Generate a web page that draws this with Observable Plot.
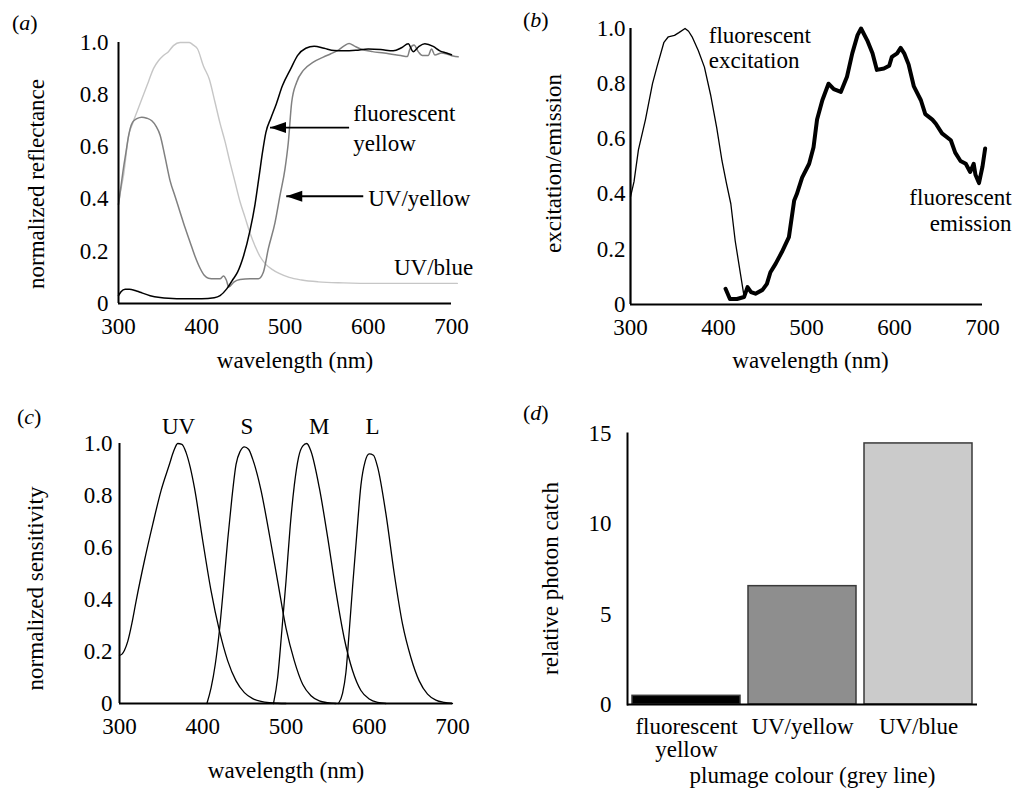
<!DOCTYPE html>
<html><head><meta charset="utf-8">
<script src="https://cdn.jsdelivr.net/npm/d3@7"></script>
<script src="https://cdn.jsdelivr.net/npm/@observablehq/plot@0.6"></script>
<style>
body{margin:0;background:#fff;}
#fig{position:relative;width:1016px;height:791px;font-family:"Liberation Serif","Times New Roman",serif;color:#000;}
.panel{position:absolute;}
.tag{position:absolute;font-size:22px;line-height:22px;}
</style></head><body>
<div id="fig">
  <div class="tag" style="left:12px;top:12px">(<i>a</i>)</div>
  <div class="tag" style="left:523px;top:9px">(<i>b</i>)</div>
  <div class="tag" style="left:17px;top:406px">(<i>c</i>)</div>
  <div class="tag" style="left:523px;top:402px">(<i>d</i>)</div>
  <div class="panel" id="pa" style="left:0;top:0"></div>
  <div class="panel" id="pb" style="left:500px;top:0"></div>
  <div class="panel" id="pc" style="left:0;top:400px"></div>
  <div class="panel" id="pd" style="left:500px;top:400px"></div>
</div>
<script>
// ---------- Panel (a): normalized reflectance ----------
const fyWl  = [300,303,308,313,320,326,338,350,360,380,400,415,422,430,437,443,450,458,464,469,473,477,483,489,497,507,515,525,535,547,559,570,585,600,615,630,640,648,654,661,668,678,686,694,700];
const fyVal = [0.03,0.045,0.055,0.055,0.05,0.043,0.03,0.023,0.02,0.018,0.018,0.022,0.03,0.056,0.09,0.12,0.18,0.28,0.38,0.49,0.58,0.655,0.71,0.76,0.835,0.90,0.95,0.978,0.986,0.978,0.969,0.968,0.97,0.975,0.973,0.968,0.98,0.995,0.965,0.985,0.995,0.985,0.968,0.96,0.953];
const uyWl  = [300,303,306,309,312,314,317,322,328,334,340,345,350,356,362,368,374,380,386,392,398,403,408,415,422,426,429.5,432.5,438.5,446,458,468,474,480,488,494,500,504,508,514,522,534,546,555,563,571,577,583,591,605,619,639,647,650,655,660,665,672,676,680,688,695,702,708];
const uyVal = [0.38,0.45,0.52,0.58,0.64,0.67,0.695,0.708,0.714,0.71,0.70,0.68,0.645,0.56,0.47,0.41,0.35,0.29,0.235,0.18,0.135,0.108,0.097,0.095,0.095,0.105,0.09,0.063,0.082,0.092,0.095,0.095,0.12,0.21,0.31,0.414,0.516,0.618,0.77,0.848,0.893,0.925,0.944,0.957,0.969,0.987,0.996,0.987,0.975,0.965,0.96,0.95,0.946,0.975,0.99,0.965,0.95,0.95,0.975,0.952,0.96,0.955,0.948,0.945];
const ubWl  = [300,303,306,312,317,322,330,336,342,348,354,360,366,374,385,390,395,402,409,416,422,428,434,440,446,452,458,464,470,477,485,493,505,520,540,570,610,660,707];
const ubVal = [0.38,0.44,0.49,0.64,0.69,0.733,0.80,0.85,0.90,0.93,0.95,0.965,0.988,1.0,1.0,0.99,0.975,0.91,0.86,0.77,0.69,0.62,0.54,0.465,0.39,0.33,0.27,0.22,0.18,0.15,0.13,0.115,0.10,0.09,0.083,0.079,0.077,0.077,0.077];
const aLabels = ["fluorescent\nyellow", "UV/yellow", "UV/blue"];
const aLabelWl = [582, 600, 726];
const aLabelV = [0.68, 0.41, 0.146];
const aLabelAnchor = ["start", "start", "end"];
const aArrowTail = [577, 594];
const aArrowTip = [482, 501.5];
const aArrowV = [0.674, 0.411];

// ---------- Panel (b): excitation / emission ----------
const exWl  = [300,304,309,317,325,330,338,343,350,355,362,366,370,377,384,391,398,404,409,414,419,425,429];
const exVal = [0.39,0.445,0.56,0.67,0.80,0.86,0.95,0.97,0.975,0.985,1.0,0.99,0.97,0.92,0.86,0.76,0.64,0.52,0.44,0.365,0.23,0.11,0.03];
const emWl  = [408,413,421,429,433,437,442,450,455,459,465,472,480,486,489,495,503,508,512,518,525,531,539,546,552,558,562,569,575,580,588,594,597,603,607,611,616,622,630,635,643,647,654,664,669,675,681,686,690,692,696,700,703];
const emVal = [0.057,0.02,0.02,0.027,0.063,0.045,0.039,0.053,0.075,0.117,0.148,0.19,0.244,0.377,0.40,0.46,0.51,0.57,0.67,0.74,0.80,0.78,0.77,0.825,0.91,0.976,1.0,0.957,0.91,0.85,0.855,0.865,0.897,0.91,0.93,0.91,0.87,0.79,0.74,0.69,0.67,0.655,0.62,0.595,0.55,0.52,0.51,0.48,0.51,0.47,0.44,0.50,0.565];
const bLabels = ["fluorescent\nexcitation", "fluorescent\nemission"];
const bLabelWl = [389, 733];
const bLabelV = [0.93, 0.345];
const bLabelAnchor = ["start", "end"];

// ---------- Panel (c): cone sensitivities ----------
const uvWl  = [300,303,306,310,315,320,330,340,350,360,365,370,375,380,385,390,400,410,420,430,440,450,460,470,480,490,500];
const uvVal = [0.185,0.19,0.205,0.24,0.31,0.395,0.55,0.69,0.82,0.92,0.97,1.0,0.997,0.965,0.908,0.83,0.626,0.433,0.28,0.164,0.087,0.042,0.019,0.008,0.003,0.001,0];
const sWl   = [405,410,415,420,425,430,435,440,445,450,455,460,470,480,490,500,510,520,530,540,550,560];
const sVal  = [0,0.06,0.15,0.28,0.45,0.63,0.79,0.92,0.97,0.987,0.978,0.94,0.82,0.65,0.47,0.29,0.164,0.074,0.03,0.01,0.003,0];
const mWl   = [485,490,495,500,505,510,515,520,525,530,540,550,560,570,580,590,600,610,620];
const mVal  = [0,0.1,0.28,0.47,0.68,0.84,0.946,0.99,1.0,0.97,0.83,0.64,0.43,0.25,0.126,0.05,0.017,0.004,0];
const lWl   = [563,568,572,576,580,585,590,595,600,605,610,620,630,640,650,660,670,680,690,700];
const lVal  = [0,0.04,0.12,0.28,0.45,0.65,0.84,0.93,0.96,0.955,0.91,0.73,0.5,0.305,0.177,0.087,0.036,0.013,0.004,0];
const coneNames = ["UV", "S", "M", "L"];
const coneLabelWl = [371, 453, 540, 604];
const coneLabelV = 1.065;

// ---------- Panel (d): relative photon catch ----------
const plumage = ["fluorescent\nyellow", "UV/yellow", "UV/blue"];
const photonCatch = [0.48, 6.55, 14.45];
const plumageFill = ["#000000", "#8e8e8e", "#cbcbcb"];

const wlTicks = [300, 400, 500, 600, 700];
const unitTicks = [0, 0.2, 0.4, 0.6, 0.8, 1.0];
const catchTicks = [0, 5, 10, 15];

// ---------- helpers ----------
const FONT = "Liberation Serif";
const base = {fontFamily: FONT, fontSize: "23px", background: "transparent", color: "black", overflow: "visible"};
const fmt1 = d => d === 0 ? "0" : d.toFixed(1);
const zip = (xs, ys) => xs.map((x, i) => ({wl: x, v: ys[i]}));
const headLeft = {draw(ctx) { ctx.moveTo(0, 0); ctx.lineTo(16, -5.5); ctx.lineTo(16, 5.5); ctx.closePath(); }};
const title = (s, o) => Plot.text([s], {text: d => d, fontSize: 23, textAnchor: "middle", lineAnchor: "middle", ...o});

// Panel a
const arrowsA = aArrowTip.map((t, i) => ({tip: t, tail: aArrowTail[i], v: aArrowV[i]}));
const labA = aLabels.map((t, i) => ({t, wl: aLabelWl[i], v: aLabelV[i], a: aLabelAnchor[i]}));
const pa = Plot.plot({
  width: 500, height: 380, marginLeft: 118, marginRight: 49, marginTop: 42, marginBottom: 77,
  style: base,
  x: {domain: [300, 700]}, y: {domain: [0, 1]},
  marks: [
    Plot.axisX({ticks: wlTicks, tickSize: 0, tickPadding: 14, label: null}),
    Plot.axisY({ticks: unitTicks, tickSize: 0, tickPadding: 10, tickFormat: fmt1, label: null}),
    Plot.line(zip(ubWl, ubVal), {x: "wl", y: "v", stroke: "#c6c6c6", strokeWidth: 1.4, curve: "monotone-x"}),
    Plot.line(zip(uyWl, uyVal), {x: "wl", y: "v", stroke: "#808080", strokeWidth: 1.5, curve: "monotone-x"}),
    Plot.line(zip(fyWl, fyVal), {x: "wl", y: "v", stroke: "#000", strokeWidth: 1.5, curve: "monotone-x"}),
    Plot.ruleX([300], {strokeWidth: 2}),
    Plot.ruleY([0], {strokeWidth: 2}),
    Plot.link(arrowsA, {x1: "tail", x2: "tip", y1: "v", y2: "v", strokeWidth: 1.8}),
    Plot.dot(arrowsA, {x: "tip", y: "v", symbol: headLeft, fill: "black", stroke: "none"}),
    Plot.text(labA.filter(d => d.a === "start"), {x: "wl", y: "v", text: "t", textAnchor: "start", lineHeight: 1.3, fontSize: 23}),
    Plot.text(labA.filter(d => d.a === "end"), {x: "wl", y: "v", text: "t", textAnchor: "end", lineHeight: 1.3, fontSize: 23}),
    title("wavelength (nm)", {frameAnchor: "bottom", dx: 10, dy: 57}),
    title("normalized reflectance", {frameAnchor: "left", rotate: -90, dx: -82, dy: 11})
  ]
});
document.getElementById("pa").appendChild(pa);

// Panel b
const labB = bLabels.map((t, i) => ({t, wl: bLabelWl[i], v: bLabelV[i], a: bLabelAnchor[i]}));
const pb = Plot.plot({
  width: 516, height: 380, marginLeft: 130, marginRight: 34, marginTop: 28, marginBottom: 76,
  style: base,
  x: {domain: [300, 700]}, y: {domain: [0, 1]},
  marks: [
    Plot.axisX({ticks: wlTicks, tickSize: 0, tickPadding: 14, label: null}),
    Plot.axisY({ticks: unitTicks, tickSize: 0, tickPadding: 5, tickFormat: fmt1, label: null}),
    Plot.line(zip(exWl, exVal), {x: "wl", y: "v", stroke: "#000", strokeWidth: 1.3}),
    Plot.line(zip(emWl, emVal), {x: "wl", y: "v", stroke: "#000", strokeWidth: 4, strokeLinejoin: "round"}),
    Plot.ruleX([300], {strokeWidth: 2.2}),
    Plot.ruleY([0], {strokeWidth: 2.2}),
    Plot.text(labB.filter(d => d.a === "start"), {x: "wl", y: "v", text: "t", textAnchor: "start", lineHeight: 1.05, fontSize: 23}),
    Plot.text(labB.filter(d => d.a === "end"), {x: "wl", y: "v", text: "t", textAnchor: "end", lineHeight: 1.13, fontSize: 23}),
    title("wavelength (nm)", {frameAnchor: "bottom", dx: 4, dy: 56}),
    title("excitation/emission", {frameAnchor: "left", rotate: -90, dx: -77, dy: -3})
  ]
});
document.getElementById("pb").appendChild(pb);

// Panel c
const cones = [
  ...zip(uvWl, uvVal).map(d => ({...d, cone: "UV"})),
  ...zip(sWl, sVal).map(d => ({...d, cone: "S"})),
  ...zip(mWl, mVal).map(d => ({...d, cone: "M"})),
  ...zip(lWl, lVal).map(d => ({...d, cone: "L"}))
];
const labC = coneNames.map((t, i) => ({t, wl: coneLabelWl[i], v: coneLabelV}));
const pc = Plot.plot({
  width: 500, height: 391, marginLeft: 119, marginRight: 48, marginTop: 43, marginBottom: 88,
  style: base,
  x: {domain: [300, 700]}, y: {domain: [0, 1]},
  marks: [
    Plot.axisX({ticks: wlTicks, tickSize: 0, tickPadding: 14, label: null}),
    Plot.axisY({ticks: unitTicks, tickSize: 0, tickPadding: 7, tickFormat: fmt1, label: null}),
    Plot.line(cones, {x: "wl", y: "v", z: "cone", stroke: "#000", strokeWidth: 1.3, curve: "monotone-x"}),
    Plot.ruleX([300], {strokeWidth: 2}),
    Plot.ruleY([0], {strokeWidth: 2}),
    Plot.text(labC, {x: "wl", y: "v", text: "t", fontSize: 23}),
    title("wavelength (nm)", {frameAnchor: "bottom", dx: 0, dy: 67}),
    title("normalized sensitivity", {frameAnchor: "left", rotate: -90, dx: -84, dy: 15})
  ]
});
document.getElementById("pc").appendChild(pc);

// Panel d
const barsD = plumage.map((c, i) => ({cat: c, val: photonCatch[i]}));
const pd = Plot.plot({
  width: 516, height: 391, marginLeft: 127, marginRight: 39, marginTop: 33, marginBottom: 87,
  style: base,
  x: {domain: plumage, paddingInner: 0.073, paddingOuter: 0.035},
  y: {domain: [0, 15]},
  color: {domain: plumage, range: plumageFill},
  marks: [
    Plot.axisX({tickSize: 0, tickPadding: 12.7, label: null, lineHeight: 1.0}),
    Plot.axisY({ticks: catchTicks, tickSize: 0, tickPadding: 16, label: null}),
    Plot.barY(barsD, {x: "cat", y: "val", fill: "cat", stroke: "#3a3a3a", strokeWidth: 1.5}),
    Plot.frame({anchor: "left", strokeWidth: 2}),
    Plot.ruleY([0], {strokeWidth: 2}),
    title("plumage colour (grey line)", {frameAnchor: "bottom", dx: 10, dy: 71.5}),
    title("relative photon catch", {frameAnchor: "left", rotate: -90, dx: -77, dy: 9.5})
  ]
});
document.getElementById("pd").appendChild(pd);
</script>
</body></html>
